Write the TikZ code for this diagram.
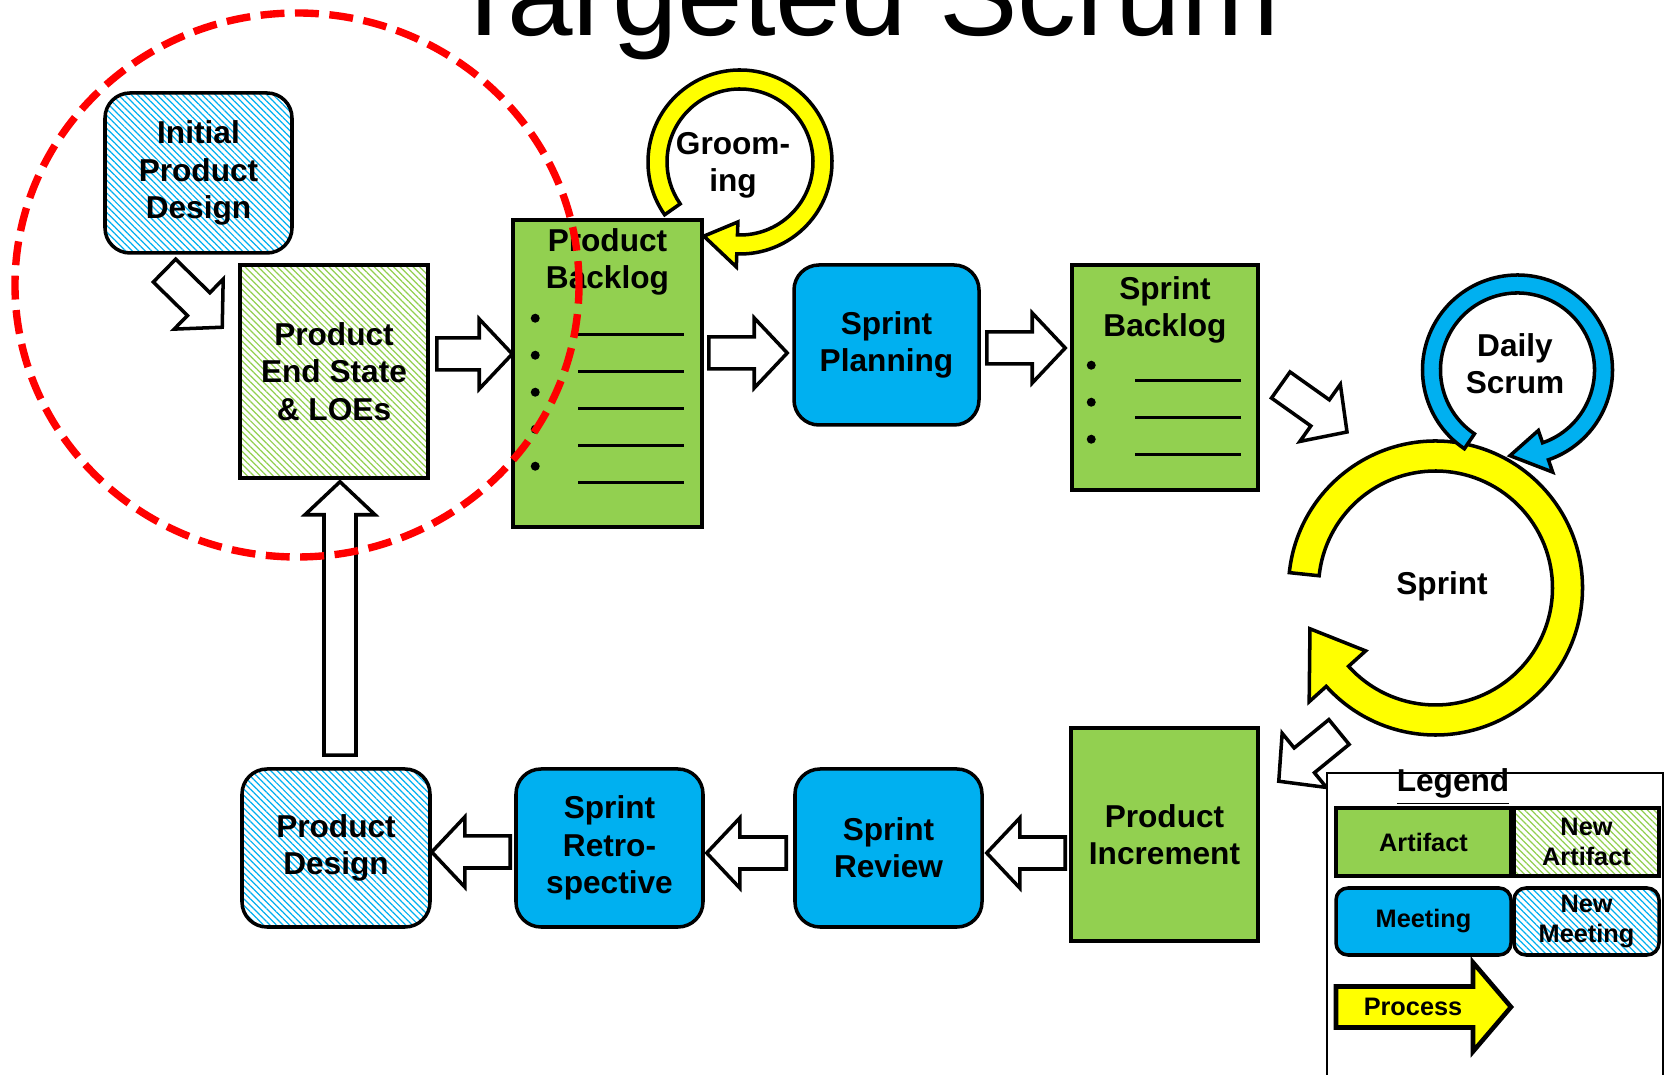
\documentclass[tikz,border=0pt]{standalone}
\usepackage{fontspec}
\setmainfont{Liberation Sans}
\usetikzlibrary{positioning,calc,patterns.meta}

\definecolor{artgreen}{HTML}{92D050}
\definecolor{meetblue}{HTML}{00B0F0}
\definecolor{procyellow}{HTML}{FFFF00}

\newcommand{\boxfont}{\fontsize{9}{10.6}\selectfont\bfseries}
\newcommand{\legfont}{\fontsize{7.2}{8.5}\selectfont\bfseries}

% block arrow sizes
\def\bashaft{0.16cm}\def\bahead{0.35cm}\def\balen{0.33cm}
\newcommand{\blockarrow}[3][]{%
  \coordinate (ba-s) at #2; \coordinate (ba-e) at #3;
  \coordinate (ba-h) at ($(ba-e)!\balen!(ba-s)$);
  \draw[barrow,#1] ($(ba-s)!\bashaft!90:(ba-e)$) -- ($(ba-h)!\bashaft!-90:(ba-s)$)
    -- ($(ba-h)!\bahead!-90:(ba-s)$) -- (ba-e) -- ($(ba-h)!\bahead!90:(ba-s)$)
    -- ($(ba-h)!\bashaft!90:(ba-s)$) -- ($(ba-s)!\bashaft!-90:(ba-e)$) -- cycle;}
% circular arrow: opts, centre, inner r, outer r, start, end, head extra, tip angle
\newcommand{\ringarrow}[8][]{%
  \draw[#1] ($#2+(#5:#4)$) arc[start angle=#5, end angle=#6, radius=#4]
    -- ($#2+(#6:{#4+#7})$) -- ($#2+({#6-#8}:{(#3+#4)/2})$)
    -- ($#2+(#6:{#3-#7})$) -- ($#2+(#6:#3)$)
    arc[start angle=#6, end angle=#5, radius=#3] -- cycle;}

\begin{document}
\begin{tikzpicture}[
  box/.style={draw, line width=1pt, align=center, inner sep=0pt, text=black, font=\boxfont},
  artifact/.style={box, rectangle, fill=artgreen},
  meeting/.style={box, rounded corners=0.25cm, fill=meetblue},
  hatch/.style={preaction={fill=white}, pattern={Lines[angle=-45,distance=1.3pt,line width=0.35pt]}, pattern color=#1},
  newartifact/.style={box, rectangle, hatch=artgreen},
  newmeeting/.style={box, rounded corners=0.25cm, hatch=meetblue},
  barrow/.style={draw, fill=white, line width=1pt, line join=miter},
  ringfill/.style={draw, line width=1pt, fill=#1},
  txt/.style={font=\boxfont, align=center, inner sep=0pt}]
  \useasboundingbox (0,0) rectangle (16.65,-10.75);

  \node[anchor=base, font=\fontsize{33.5}{40}\selectfont] (title) at (8.64,-0.36) {Targeted Scrum};

  \node[newmeeting, minimum width=1.87cm, minimum height=1.60cm] (ipd) at (1.985,-1.73) {Initial\\Product\\Design};
  \node[newartifact, minimum width=1.88cm, minimum height=2.13cm] (pes) at (3.34,-3.715) {Product\\End State\\\& LOEs};
  \node[artifact, minimum width=1.89cm, minimum height=3.07cm] (pb) at (6.075,-3.735) {};
  \node[txt] (pbtitle) at ([yshift=-0.44cm]pb.north) {Product\\Backlog};
  \node[meeting, minimum width=1.85cm, minimum height=1.60cm] (sp) at (8.865,-3.45) {Sprint\\Planning};
  \node[artifact, minimum width=1.86cm, minimum height=2.25cm] (sb) at (11.65,-3.775) {};
  \node[txt] (sbtitle) at ([yshift=-0.47cm]sb.north) {Sprint\\Backlog};
  \node[artifact, minimum width=1.87cm, minimum height=2.13cm] (pi) at (11.645,-8.345) {Product\\Increment};
  \node[meeting, minimum width=1.87cm, minimum height=1.58cm] (srv) at (8.885,-8.48) {Sprint\\Review};
  \node[meeting, minimum width=1.87cm, minimum height=1.58cm, on grid, left=2.79cm of srv] (sr) {Sprint\\Retro-\\spective};
  \node[newmeeting, minimum width=1.88cm, minimum height=1.58cm, on grid, left=2.735cm of sr] (pd) {Product\\Design};

  % backlog items
  \foreach \i in {0,...,4} {
    \fill ([shift={(0.24,{-1.0-0.37*\i})}]pb.north west) circle (0.045);
    \draw[line width=0.8pt] ([shift={(0.67,{-1.16-0.37*\i})}]pb.north west) -- ++(1.06,0);
  }
  \foreach \i in {0,...,2} {
    \fill ([shift={(0.21,{-1.02-0.37*\i})}]sb.north west) circle (0.045);
    \draw[line width=0.8pt] ([shift={(0.65,{-1.175-0.37*\i})}]sb.north west) -- ++(1.06,0);
  }

  % loops
  \coordinate (groomc) at (7.40,-1.62);
  \ringarrow[ringfill=procyellow]{(groomc)}{0.73}{0.92}{215}{-92}{0.13}{24}
  \node[txt] (groom) at (7.33,-1.65) {Groom-\\ing};
  \coordinate (sprintc) at (14.355,-5.88);
  \ringarrow[ringfill=procyellow]{(sprintc)}{1.17}{1.47}{174}{-138}{0.23}{24}
  \node[txt] (sprint) at (14.42,-5.86) {Sprint};
  \coordinate (dailyc) at (15.175,-3.70);
  \ringarrow[ringfill=meetblue]{(dailyc)}{0.77}{0.95}{236}{-71}{0.13}{24}
  \node[txt] (daily) at (15.15,-3.635) {Daily\\Scrum};

  % flow
  \blockarrow{([shift={(-0.34,-0.17)}]ipd.south)}{([shift={(-0.16,-0.64)}]pes.north west)}
  \blockarrow{([shift={(0.07,0.175)}]pes.east)}{([shift={(0.01,0.195)}]pb.west)}
  \blockarrow{([shift={(0.05,0.205)}]pb.east)}{([shift={(-0.05,-0.08)}]sp.west)}
  \blockarrow{([shift={(0.06,-0.03)}]sp.east)}{([shift={(-0.05,0.295)}]sb.west)}
  \blockarrow{([shift={(0.21,-0.075)}]sb.east)}{([shift={(-0.885,1.56)}]sprintc)}
  \blockarrow{([shift={(-0.965,-1.44)}]sprintc)}{([shift={(0.19,-0.55)}]pi.north east)}
  \blockarrow{([shift={(-0.04,-0.185)}]pi.west)}{([shift={(0.03,-0.05)}]srv.east)}
  \blockarrow{([shift={(-0.07,-0.05)}]srv.west)}{([shift={(0.02,-0.05)}]sr.east)}
  \blockarrow{([shift={(-0.04,-0.04)}]sr.west)}{([shift={(0,-0.04)}]pd.east)}
  \blockarrow{([shift={(0.04,0.12)}]pd.north)}{([shift={(0.06,-0.02)}]pes.south)}

  \draw[red, line width=2.1pt, dash pattern=on 6.8pt off 3pt] (2.97,-2.85) ellipse [x radius=2.82, y radius=2.72];

  % legend
  \draw[line width=0.6pt, fill=white] (13.27,-7.73) rectangle (16.63,-10.95);
  \node[anchor=base, font=\boxfont] (legend) at (14.53,-7.92) {\underline{Legend}};
  \node[artifact, font=\legfont, minimum width=1.75cm, minimum height=0.68cm] (lart) at (14.235,-8.42) {Artifact};
  \node[newartifact, font=\legfont, minimum width=1.45cm, minimum height=0.68cm] (lnart) at (15.865,-8.42) {New\\Artifact};
  \node[meeting, rounded corners=0.12cm, font=\legfont, minimum width=1.75cm, minimum height=0.67cm] (lmeet) at (14.235,-9.215) {Meeting};
  \node[newmeeting, rounded corners=0.12cm, font=\legfont, minimum width=1.45cm, minimum height=0.67cm] (lnmeet) at (15.865,-9.215) {New\\Meeting};
  \coordinate (procs) at (13.36,-10.07);
  \coordinate (proce) at (15.11,-10.07);
  \begingroup\def\bashaft{0.205cm}\def\bahead{0.445cm}\def\balen{0.38cm}
  \blockarrow[fill=procyellow, line width=1.3pt]{(procs)}{(proce)}
  \endgroup
  \node[font=\legfont] (proc) at (14.13,-10.07) {Process};
\end{tikzpicture}
\end{document}
